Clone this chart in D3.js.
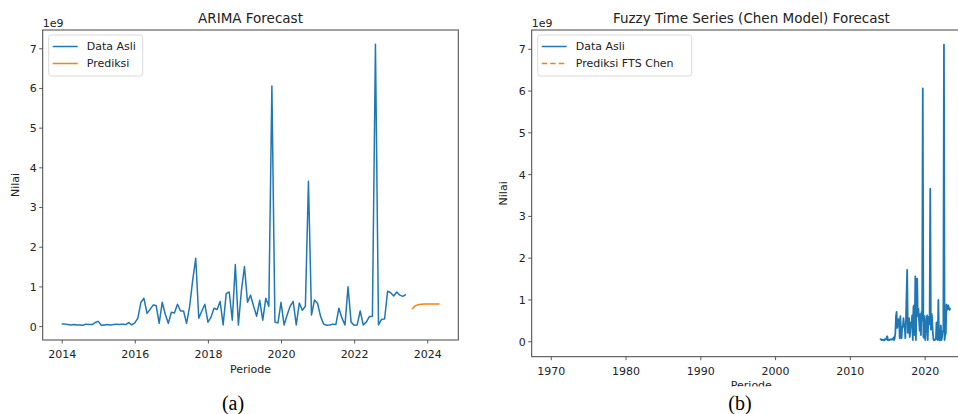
<!DOCTYPE html>
<html><head><meta charset="utf-8">
<script src="https://cdn.jsdelivr.net/npm/d3@7"></script>
<style>
html,body{margin:0;padding:0;background:#fff;overflow:hidden;}
svg{display:block;font-family:"DejaVu Sans",sans-serif;}
</style></head>
<body>
<svg id="chart" width="958" height="414"></svg>
<script>
// ---- data (values in units of 1e9) ----
const actualStart = "2014-01";
const actualValues = [
  0.05,0.05,0.04,0.03,0.04,0.03,0.03,0.02,0.05,0.04,0.04,0.09,
  0.12,0.02,0.03,0.04,0.03,0.04,0.05,0.04,0.05,0.04,0.09,0.03,
  0.08,0.20,0.60,0.70,0.32,0.42,0.53,0.52,0.07,0.60,0.30,0.07,
  0.35,0.33,0.55,0.38,0.38,0.07,0.50,1.15,1.71,0.20,0.38,0.55,
  0.10,0.22,0.45,0.42,0.62,0.03,0.82,0.86,0.15,1.55,0.03,0.90,
  1.50,0.60,0.78,0.50,0.25,0.65,0.15,0.70,0.50,6.05,0.10,0.08,
  0.60,0.03,0.28,0.50,0.62,0.03,0.58,0.40,0.50,3.65,0.28,0.66,
  0.57,0.24,0.05,0.02,0.03,0.05,0.04,0.45,0.20,0.03,0.99,0.10,
  0.02,0.03,0.38,0.03,0.10,0.24,0.24,7.10,0.03,0.17,0.18,0.88,
  0.84,0.76,0.86,0.78,0.75,0.80
];
const predStart = "2023-08";
const predValues = [0.43,0.51,0.54,0.55,0.555,0.56,0.56,0.56,0.56,0.56];
const leftXTicks = [2014,2016,2018,2020,2022,2024];
const rightXTicks = [1970,1980,1990,2000,2010,2020];
const yTicks = [0,1,2,3,4,5,6,7];
const leftXDomain = [2013.48, 2024.85];
const rightXDomain = [1967.45, 2026.2];
const leftYDomain = [-0.35, 7.46];
const rightYDomain = [-0.37, 7.45];

function monthSeries(start, values){
  const [y,m] = start.split("-").map(Number);
  return values.map((v,i)=>({t: y + (m-1+i)/12, v}));
}
const actual = monthSeries(actualStart, actualValues);
const pred = monthSeries(predStart, predValues);

const svg = d3.select("#chart");
const BLUE="#1f77b4", ORANGE="#ff7f0e";

// clip for the bottom of panel (b), which is cut off in the original figure
svg.append("clipPath").attr("id","cutB").append("rect")
  .attr("x",480).attr("y",0).attr("width",478).attr("height",386.5);

function drawPanel(o){
  const g = svg.append("g");
  if(o.cut) g.attr("clip-path","url(#cutB)");
  const x = d3.scaleLinear().domain(o.xDomain).range([o.left,o.right]);
  const y = d3.scaleLinear().domain(o.yDomain).range([o.bottom,o.top]);
  const clipId = "clip"+o.id;
  g.append("clipPath").attr("id",clipId).append("rect")
    .attr("x",o.left).attr("y",o.top).attr("width",o.right-o.left).attr("height",o.bottom-o.top);
  const line = d3.line().x(d=>x(d.t)).y(d=>y(d.v));
  const pg = g.append("g").attr("clip-path",`url(#${clipId})`);
  pg.append("path").datum(actual).attr("d",line).attr("fill","none")
    .attr("stroke",BLUE).attr("stroke-width",o.lw).attr("stroke-linejoin","round");
  if(o.pred){
    pg.append("path").datum(pred).attr("d",line).attr("fill","none")
      .attr("stroke",ORANGE).attr("stroke-width",1.5);
  }
  const xa = g.append("g").attr("transform",`translate(0,${o.bottom})`)
    .call(d3.axisBottom(x).tickValues(o.xTicks).tickFormat(d3.format("d")).tickSize(3.5).tickSizeOuter(0));
  const ya = g.append("g").attr("transform",`translate(${o.left},0)`)
    .call(d3.axisLeft(y).tickValues(yTicks).tickFormat(d3.format("d")).tickSize(3.5).tickSizeOuter(0));
  [xa,ya].forEach(a=>{
    a.select(".domain").remove();
    a.selectAll("line").attr("stroke","#333").attr("stroke-width",0.8);
    a.selectAll("text").attr("fill","#222").style("font-size","11px").style("font-family","DejaVu Sans");
  });
  xa.selectAll("text").attr("dy","1.05em");
  ya.selectAll("text").attr("x",-6).attr("dy","0.36em");
  g.append("rect").attr("x",o.left).attr("y",o.top).attr("width",o.right-o.left).attr("height",o.bottom-o.top)
    .attr("fill","none").attr("stroke","#444").attr("stroke-width",1);
  g.append("text").attr("x",(o.left+o.right)/2).attr("y",22.5).attr("text-anchor","middle")
    .style("font-size","13.5px").attr("fill","#222").text(o.title);
  g.append("text").attr("x",o.left).attr("y",27).style("font-size","11px").attr("fill","#222").text("1e9");
  g.append("text").attr("transform",`translate(${o.ylabX},${(o.top+o.bottom)/2}) rotate(-90)`)
    .attr("text-anchor","middle").style("font-size","11px").attr("fill","#222").text("Nilai");
  g.append("text").attr("x",(o.left+o.right)/2).attr("y",o.xlabY).attr("text-anchor","middle")
    .style("font-size","11px").attr("fill","#222").text("Periode");
  const lg = g.append("g");
  lg.append("rect").attr("x",o.left+6).attr("y",o.top+5).attr("width",o.legW).attr("height",41)
    .attr("rx",2.5).attr("fill","#fff").attr("fill-opacity",0.85).attr("stroke","#d6d6d6").attr("stroke-width",0.9);
  o.legend.forEach((it,i)=>{
    const yy = o.top + 16.5 + i*17;
    lg.append("line").attr("x1",o.left+10).attr("x2",o.left+35).attr("y1",yy).attr("y2",yy)
      .attr("stroke",it.color).attr("stroke-width",1.5).attr("stroke-dasharray",it.dash||null);
    lg.append("text").attr("x",o.left+44).attr("y",yy).attr("dy","0.36em")
      .style("font-size","11px").attr("fill","#222").text(it.label);
  });
}

drawPanel({id:"a", left:42.7, right:458.3, top:30, bottom:340,
  xDomain:leftXDomain, yDomain:leftYDomain, xTicks:leftXTicks, lw:1.5, pred:true,
  title:"ARIMA Forecast", ylabX:19, xlabY:373, legW:94,
  legend:[{label:"Data Asli",color:BLUE},{label:"Prediksi",color:ORANGE}]});

drawPanel({id:"b", left:531.7, right:971, top:30, bottom:356.7, cut:true,
  xDomain:rightXDomain, yDomain:rightYDomain, xTicks:rightXTicks, lw:1.8, pred:false,
  title:"Fuzzy Time Series (Chen Model) Forecast", ylabX:507, xlabY:389, legW:154,
  legend:[{label:"Data Asli",color:BLUE},{label:"Prediksi FTS Chen",color:ORANGE,dash:"5.5,3"}]});

svg.append("text").attr("x",233).attr("y",409.5).attr("text-anchor","middle")
  .style("font-family","'Liberation Serif',serif").style("font-size","20px").attr("fill","#000").text("(a)");
svg.append("text").attr("x",740).attr("y",409.5).attr("text-anchor","middle")
  .style("font-family","'Liberation Serif',serif").style("font-size","20px").attr("fill","#000").text("(b)");
</script>
</body></html>
